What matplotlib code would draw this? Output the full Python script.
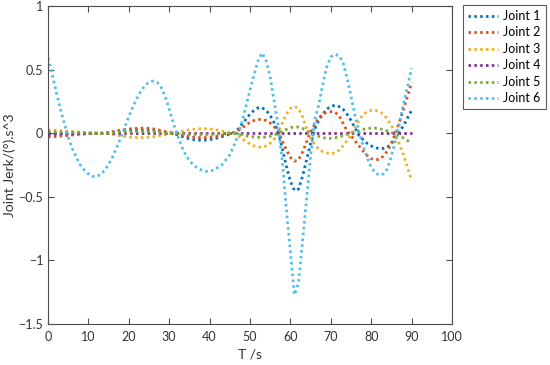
import numpy as np
import matplotlib
matplotlib.use("Agg")
import matplotlib.pyplot as plt

T = list(range(0, 91))

joint1 = [-0.015, -0.014, -0.013, -0.011, -0.01, -0.008, -0.007, -0.005, -0.004, -0.003,
          -0.002, -0.001, -0.001, 0.0, 0.0, 0.004, 0.008, 0.012, 0.016, 0.019,
          0.021, 0.023, 0.024, 0.024, 0.023, 0.021, 0.018, 0.014, 0.01, 0.006,
          0.003, 0.0, -0.012, -0.024, -0.035, -0.044, -0.05, -0.054, -0.055, -0.054,
          -0.05, -0.045, -0.037, -0.028, -0.018, -0.007, 0.005, 0.03, 0.07, 0.11,
          0.15, 0.18, 0.20, 0.20, 0.18, 0.14, 0.08, 0.01, -0.12, -0.26,
          -0.38, -0.45, -0.44, -0.34, -0.21, -0.08, 0.03, 0.10, 0.15, 0.19,
          0.21, 0.22, 0.21, 0.19, 0.15, 0.10, 0.04, -0.02, -0.05, -0.08,
          -0.10, -0.115, -0.12, -0.12, -0.11, -0.08, -0.04, 0.01, 0.06, 0.12,
          0.18]

joint2 = [-0.03, -0.028, -0.026, -0.023, -0.02, -0.017, -0.014, -0.011, -0.008, -0.006,
          -0.004, -0.002, -0.001, 0.0, 0.0, 0.006, 0.012, 0.018, 0.024, 0.029,
          0.033, 0.036, 0.038, 0.04, 0.04, 0.038, 0.034, 0.028, 0.021, 0.013,
          0.006, 0.0, -0.007, -0.014, -0.021, -0.027, -0.031, -0.034, -0.035, -0.034,
          -0.032, -0.028, -0.023, -0.017, -0.01, -0.004, 0.003, 0.02, 0.04, 0.065,
          0.085, 0.10, 0.108, 0.108, 0.10, 0.08, 0.05, 0.01, -0.06, -0.13,
          -0.19, -0.22, -0.21, -0.15, -0.07, 0.01, 0.07, 0.12, 0.15, 0.165,
          0.17, 0.165, 0.14, 0.08, 0.02, -0.02, -0.06, -0.10, -0.14, -0.175,
          -0.20, -0.21, -0.205, -0.18, -0.14, -0.08, 0.0, 0.09, 0.19, 0.29,
          0.40]

joint3 = [0.025, 0.024, 0.022, 0.02, 0.018, 0.015, 0.013, 0.011, 0.008, 0.006,
          0.004, 0.003, 0.001, 0.0, 0.0, -0.005, -0.01, -0.016, -0.021, -0.026,
          -0.03, -0.033, -0.035, -0.035, -0.034, -0.032, -0.028, -0.023, -0.017, -0.011,
          -0.005, 0.0, 0.007, 0.014, 0.021, 0.027, 0.031, 0.034, 0.035, 0.035,
          0.033, 0.029, 0.024, 0.018, 0.011, 0.005, -0.002, -0.02, -0.04, -0.065,
          -0.085, -0.10, -0.108, -0.11, -0.10, -0.08, -0.045, 0.01, 0.08, 0.15,
          0.195, 0.21, 0.195, 0.13, 0.04, -0.04, -0.09, -0.125, -0.145, -0.155,
          -0.16, -0.155, -0.135, -0.10, -0.06, -0.01, 0.05, 0.10, 0.145, 0.17,
          0.18, 0.18, 0.17, 0.15, 0.11, 0.06, -0.01, -0.09, -0.17, -0.27,
          -0.37]

joint4 = [0.0] * 91

joint5 = [0.012, 0.011, 0.01, 0.009, 0.008, 0.007, 0.006, 0.005, 0.004, 0.003,
          0.002, 0.001, 0.0, 0.0, 0.0, 0.002, 0.004, 0.006, 0.008, 0.009,
          0.01, 0.011, 0.012, 0.012, 0.012, 0.011, 0.01, 0.008, 0.006, 0.004,
          0.002, 0.0, -0.002, -0.004, -0.006, -0.008, -0.009, -0.01, -0.01, -0.01,
          -0.009, -0.008, -0.006, -0.004, -0.003, -0.001, 0.0, -0.006, -0.012, -0.02,
          -0.026, -0.03, -0.032, -0.032, -0.03, -0.024, -0.014, 0.0, 0.015, 0.03,
          0.043, 0.05, 0.048, 0.037, 0.02, 0.003, -0.012, -0.025, -0.034, -0.04,
          -0.04, -0.036, -0.03, -0.02, -0.01, 0.0, 0.01, 0.02, 0.03, 0.037,
          0.04, 0.04, 0.036, 0.028, 0.018, 0.006, -0.006, -0.02, -0.038, -0.058,
          -0.08]

joint6 = [0.59, 0.47, 0.33, 0.20, 0.08, -0.03, -0.12, -0.19, -0.25, -0.29,
          -0.32, -0.34, -0.34, -0.325, -0.293, -0.245, -0.185, -0.113, -0.035, 0.048,
          0.129, 0.206, 0.274, 0.331, 0.375, 0.401, 0.41, 0.40, 0.36, 0.29,
          0.19, 0.08, -0.01, -0.10, -0.165, -0.215, -0.25, -0.275, -0.29, -0.30,
          -0.30, -0.29, -0.27, -0.25, -0.21, -0.17, -0.10, -0.02, 0.09, 0.21,
          0.34, 0.46, 0.57, 0.63, 0.57, 0.44, 0.25, 0.05, -0.22, -0.60,
          -0.93, -1.27, -1.18, -0.85, -0.52, -0.18, 0.10, 0.22, 0.38, 0.52,
          0.60, 0.62, 0.61, 0.56, 0.44, 0.29, 0.14, 0.01, -0.10, -0.19,
          -0.27, -0.31, -0.33, -0.32, -0.28, -0.18, -0.06, 0.08, 0.23, 0.37,
          0.51]

series = [joint1, joint2, joint3, joint4, joint5, joint6]
names = ["Joint 1", "Joint 2", "Joint 3", "Joint 4", "Joint 5", "Joint 6"]
colors = ["#0072BD", "#D95319", "#EDB120", "#7E2F8E", "#77AC30", "#4DBEEE"]

xticks = [0, 10, 20, 30, 40, 50, 60, 70, 80, 90, 100]
yticks = [-1.5, -1, -0.5, 0, 0.5, 1]
ytick_labels = ["\u22121.5", "\u22121", "\u22120.5", "0", "0.5", "1"]

plt.rcParams['font.family'] = ['Lato', 'DejaVu Sans']

fig = plt.figure(figsize=(5.5, 3.65), dpi=100)
ax = fig.add_axes([48/550, 41/365, (452-48)/550, (324-6)/365])

for vals, name, c in zip(series, names, colors):
    ax.plot(T, vals, color=c, lw=2.0, linestyle=(0, (0.9, 1.2)), label=name)

ax.set_xlim(0, 100)
ax.set_ylim(-1.5, 1)
ax.set_xticks(xticks)
ax.set_yticks(yticks)
ax.set_yticklabels(ytick_labels)

axcol = "#4d4d4d"
for s in ax.spines.values():
    s.set_color(axcol)
    s.set_linewidth(0.8)
ax.tick_params(direction='in', length=4, width=0.8, colors=axcol, labelsize=9,
               top=True, right=True, labelcolor="#333333")
ax.tick_params(axis='x', pad=5)

ax.set_xlabel("T /s", fontsize=10, color="#333333", labelpad=4)
ax.set_ylabel("Joint Jerk/(°).s^3", fontsize=10, color="#333333", labelpad=2)

leg = ax.legend(loc='upper left', bbox_to_anchor=((463 - 48) / 404, 1.0 + 1/318),
                frameon=True, fancybox=False, fontsize=9, handlelength=2.4,
                borderpad=0.4, labelspacing=0.36, handletextpad=0.4,
                borderaxespad=0)
leg.get_frame().set_edgecolor("#333333")
leg.get_frame().set_linewidth(0.8)

fig.savefig("out.png", dpi=100)
